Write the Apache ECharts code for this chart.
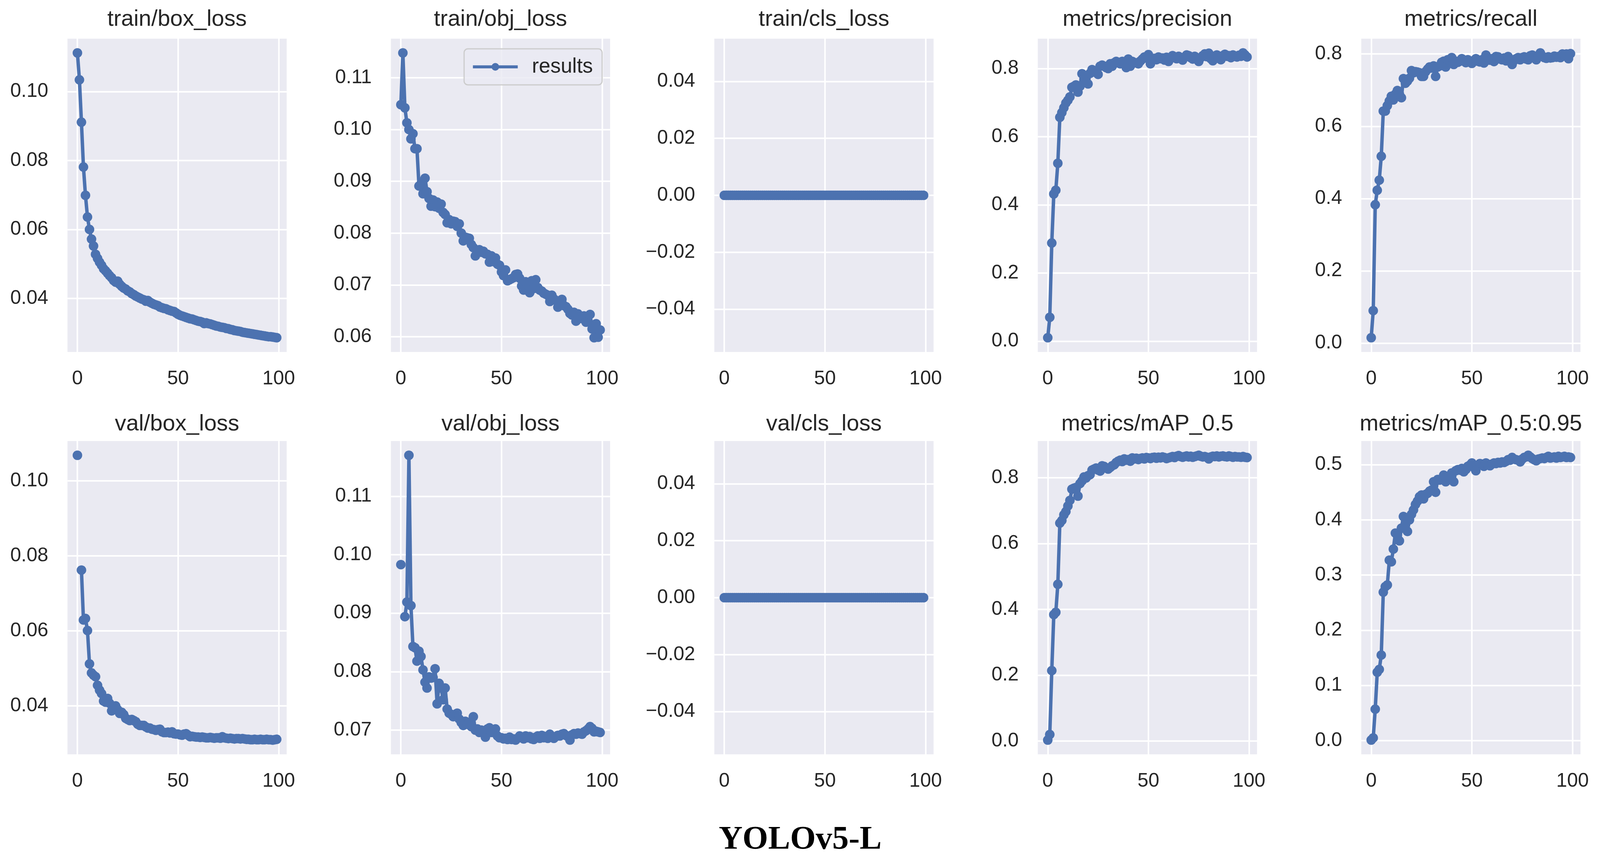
<!DOCTYPE html>
<html>
<head>
<meta charset="utf-8">
<script src="https://cdn.jsdelivr.net/npm/echarts@6/dist/echarts.min.js"></script>
<style>
  html, body { margin: 0; padding: 0; background: #fff; overflow: hidden; }
  #main { width: 100vw; height: 100vh; }
</style>
</head>
<body>
<div id="main"></div>
<script>
var titles = ['train/box_loss', 'train/obj_loss', 'train/cls_loss', 'metrics/precision', 'metrics/recall',
  'val/box_loss', 'val/obj_loss', 'val/cls_loss', 'metrics/mAP_0.5', 'metrics/mAP_0.5:0.95'];

var xTicks = [0, 50, 100];

var trainBox = [0.1112, 0.1034, 0.0911, 0.0781, 0.0699, 0.0636, 0.0600, 0.0572, 0.0552, 0.0528,
  0.0516, 0.0505, 0.0496, 0.0486, 0.0480, 0.0473, 0.0466, 0.0460, 0.0452, 0.0447,
  0.0450, 0.0441, 0.0435, 0.0430, 0.0427, 0.0422, 0.0419, 0.0414, 0.0411, 0.0407,
  0.0404, 0.0401, 0.0398, 0.0396, 0.0392, 0.0394, 0.0389, 0.0386, 0.0383, 0.0381,
  0.0379, 0.0375, 0.0373, 0.0371, 0.0370, 0.0367, 0.0365, 0.0363, 0.0362, 0.0358,
  0.0354, 0.0351, 0.0349, 0.0347, 0.0345, 0.0343, 0.0341, 0.0340, 0.0338, 0.0336,
  0.0334, 0.0333, 0.0331, 0.0327, 0.0329, 0.0327, 0.0326, 0.0324, 0.0322, 0.0320,
  0.0319, 0.0317, 0.0316, 0.0315, 0.0313, 0.0312, 0.0310, 0.0309, 0.0307, 0.0306,
  0.0305, 0.0304, 0.0302, 0.0301, 0.0300, 0.0299, 0.0298, 0.0297, 0.0296, 0.0295,
  0.0294, 0.0293, 0.0292, 0.0291, 0.0290, 0.0289, 0.0289, 0.0288, 0.0287, 0.0286];

var trainObj = [0.1048, 0.1148, 0.1042, 0.1013, 0.1000, 0.0982, 0.0992, 0.0963, 0.0963, 0.0891,
  0.0895, 0.0876, 0.0906, 0.0880, 0.0867, 0.0852, 0.0864, 0.0851, 0.0860, 0.0848,
  0.0856, 0.0840, 0.0836, 0.0820, 0.0826, 0.0818, 0.0823, 0.0822, 0.0813, 0.0818,
  0.0800, 0.0785, 0.0792, 0.0791, 0.0790, 0.0778, 0.0772, 0.0756, 0.0767, 0.0768,
  0.0763, 0.0765, 0.0760, 0.0759, 0.0744, 0.0756, 0.0745, 0.0752, 0.0740, 0.0738,
  0.0725, 0.0718, 0.0729, 0.0708, 0.0710, 0.0712, 0.0714, 0.0720, 0.0721, 0.0713,
  0.0698, 0.0690, 0.0706, 0.0700, 0.0685, 0.0708, 0.0693, 0.0710, 0.0695, 0.0690,
  0.0688, 0.0684, 0.0682, 0.0680, 0.0668, 0.0680, 0.0673, 0.0670, 0.0657, 0.0663,
  0.0672, 0.0660, 0.0658, 0.0653, 0.0645, 0.0642, 0.0647, 0.0630, 0.0644, 0.0638,
  0.0635, 0.0640, 0.0628, 0.0630, 0.0643, 0.0615, 0.0598, 0.0625, 0.0599, 0.0613];

var trainCls = [0, 0, 0, 0, 0, 0, 0, 0, 0, 0,
  0, 0, 0, 0, 0, 0, 0, 0, 0, 0,
  0, 0, 0, 0, 0, 0, 0, 0, 0, 0,
  0, 0, 0, 0, 0, 0, 0, 0, 0, 0,
  0, 0, 0, 0, 0, 0, 0, 0, 0, 0,
  0, 0, 0, 0, 0, 0, 0, 0, 0, 0,
  0, 0, 0, 0, 0, 0, 0, 0, 0, 0,
  0, 0, 0, 0, 0, 0, 0, 0, 0, 0,
  0, 0, 0, 0, 0, 0, 0, 0, 0, 0,
  0, 0, 0, 0, 0, 0, 0, 0, 0, 0];

var precision = [0.010, 0.070, 0.288, 0.432, 0.443, 0.522, 0.657, 0.671, 0.685, 0.699,
  0.707, 0.717, 0.745, 0.748, 0.752, 0.731, 0.748, 0.785, 0.769, 0.759,
  0.755, 0.786, 0.797, 0.790, 0.793, 0.783, 0.807, 0.810, 0.807, 0.803,
  0.800, 0.814, 0.807, 0.817, 0.821, 0.817, 0.814, 0.821, 0.817, 0.803,
  0.828, 0.807, 0.821, 0.817, 0.817, 0.814, 0.822, 0.828, 0.834, 0.831,
  0.841, 0.814, 0.828, 0.830, 0.826, 0.834, 0.829, 0.831, 0.825, 0.833,
  0.821, 0.830, 0.838, 0.833, 0.829, 0.836, 0.830, 0.825, 0.834, 0.840,
  0.838, 0.832, 0.828, 0.836, 0.830, 0.821, 0.832, 0.838, 0.843, 0.835,
  0.845, 0.829, 0.823, 0.836, 0.840, 0.834, 0.826, 0.838, 0.842, 0.836,
  0.838, 0.832, 0.840, 0.836, 0.834, 0.839, 0.836, 0.846, 0.840, 0.834];

var recall = [0.015, 0.090, 0.383, 0.423, 0.451, 0.517, 0.642, 0.642, 0.657, 0.670,
  0.683, 0.673, 0.689, 0.699, 0.689, 0.679, 0.732, 0.719, 0.725, 0.733,
  0.754, 0.748, 0.751, 0.750, 0.748, 0.738, 0.738, 0.751, 0.758, 0.764,
  0.761, 0.767, 0.738, 0.764, 0.767, 0.777, 0.780, 0.764, 0.784, 0.780,
  0.790, 0.771, 0.780, 0.777, 0.780, 0.787, 0.781, 0.776, 0.784, 0.779,
  0.774, 0.782, 0.787, 0.780, 0.778, 0.784, 0.775, 0.797, 0.789, 0.783,
  0.787, 0.779, 0.793, 0.792, 0.786, 0.784, 0.789, 0.781, 0.793, 0.785,
  0.771, 0.782, 0.787, 0.790, 0.784, 0.790, 0.792, 0.786, 0.784, 0.795,
  0.797, 0.790, 0.784, 0.793, 0.803, 0.794, 0.790, 0.788, 0.792, 0.789,
  0.790, 0.794, 0.791, 0.793, 0.790, 0.800, 0.796, 0.800, 0.787, 0.801];

var valBox = [0.1068, null, 0.0762, 0.0629, 0.0633, 0.0601, 0.0512, 0.0488, 0.0482, 0.0478,
  0.0455, 0.0442, 0.0433, 0.0413, 0.0410, 0.0420, 0.0407, 0.0387, 0.0390, 0.0400,
  0.0390, 0.0380, 0.0383, 0.0377, 0.0367, 0.0364, 0.0361, 0.0364, 0.0361, 0.0358,
  0.0351, 0.0348, 0.0348, 0.0348, 0.0344, 0.0341, 0.0341, 0.0338, 0.0337, 0.0335,
  0.0337, 0.0338, 0.0331, 0.0329, 0.0329, 0.0330, 0.0328, 0.0331, 0.0326, 0.0325,
  0.0325, 0.0323, 0.0322, 0.0325, 0.0326, 0.0322, 0.0318, 0.0319, 0.0318, 0.0317,
  0.0317, 0.0316, 0.0317, 0.0316, 0.0315, 0.0315, 0.0316, 0.0315, 0.0314, 0.0315,
  0.0315, 0.0314, 0.0318, 0.0315, 0.0314, 0.0313, 0.0314, 0.0313, 0.0312, 0.0313,
  0.0313, 0.0312, 0.0313, 0.0312, 0.0311, 0.0311, 0.0310, 0.0310, 0.0311, 0.0310,
  0.0310, 0.0311, 0.0310, 0.0310, 0.0311, 0.0310, 0.0310, 0.0309, 0.0310, 0.0311];

var valObj = [0.0983, null, 0.0894, 0.0919, 0.1170, 0.0913, 0.0843, 0.0841, 0.0818, 0.0835,
  0.0826, 0.0803, 0.0782, 0.0772, 0.0791, 0.0789, 0.0790, 0.0805, 0.0745, 0.0780,
  0.0772, 0.0752, 0.0772, 0.0736, 0.0729, 0.0727, 0.0723, 0.0727, 0.0729, 0.0719,
  0.0713, 0.0708, 0.0715, 0.0710, 0.0713, 0.0706, 0.0723, 0.0700, 0.0702, 0.0696,
  0.0700, 0.0698, 0.0688, 0.0702, 0.0704, 0.0696, 0.0696, 0.0702, 0.0690, 0.0687,
  0.0687, 0.0685, 0.0686, 0.0684, 0.0688, 0.0684, 0.0685, 0.0683, 0.0686, 0.0690,
  0.0688, 0.0685, 0.0690, 0.0687, 0.0689, 0.0685, 0.0684, 0.0688, 0.0690, 0.0686,
  0.0691, 0.0687, 0.0689, 0.0686, 0.0693, 0.0688, 0.0686, 0.0689, 0.0691, 0.0690,
  0.0693, 0.0694, 0.0691, 0.0689, 0.0683, 0.0692, 0.0694, 0.0693, 0.0695, 0.0694,
  0.0693, 0.0697, 0.0699, 0.0702, 0.0706, 0.0703, 0.0697, 0.0698, 0.0697, 0.0696];

var valCls = [0, 0, 0, 0, 0, 0, 0, 0, 0, 0,
  0, 0, 0, 0, 0, 0, 0, 0, 0, 0,
  0, 0, 0, 0, 0, 0, 0, 0, 0, 0,
  0, 0, 0, 0, 0, 0, 0, 0, 0, 0,
  0, 0, 0, 0, 0, 0, 0, 0, 0, 0,
  0, 0, 0, 0, 0, 0, 0, 0, 0, 0,
  0, 0, 0, 0, 0, 0, 0, 0, 0, 0,
  0, 0, 0, 0, 0, 0, 0, 0, 0, 0,
  0, 0, 0, 0, 0, 0, 0, 0, 0, 0,
  0, 0, 0, 0, 0, 0, 0, 0, 0, 0];

var map50 = [0.003, 0.020, 0.214, 0.384, 0.391, 0.476, 0.662, 0.670, 0.687, 0.697,
  0.714, 0.731, 0.765, 0.768, 0.770, 0.744, 0.782, 0.790, 0.802, 0.799,
  0.806, 0.809, 0.823, 0.826, 0.829, 0.823, 0.820, 0.836, 0.834, 0.829,
  0.826, 0.831, 0.836, 0.839, 0.846, 0.850, 0.853, 0.849, 0.857, 0.853,
  0.855, 0.850, 0.860, 0.857, 0.859, 0.855, 0.858, 0.860, 0.857, 0.861,
  0.860, 0.858, 0.861, 0.862, 0.859, 0.862, 0.860, 0.863, 0.861, 0.858,
  0.860, 0.862, 0.864, 0.861, 0.865, 0.867, 0.864, 0.862, 0.864, 0.866,
  0.863, 0.865, 0.862, 0.864, 0.866, 0.868, 0.865, 0.863, 0.864, 0.862,
  0.857, 0.863, 0.865, 0.864, 0.866, 0.863, 0.865, 0.866, 0.864, 0.863,
  0.866, 0.864, 0.862, 0.864, 0.863, 0.863, 0.862, 0.864, 0.862, 0.861];

var map5095 = [0.001, 0.005, 0.057, 0.124, 0.129, 0.155, 0.269, 0.279, 0.282, 0.327,
  0.324, 0.347, 0.376, 0.372, 0.362, 0.385, 0.406, 0.392, 0.379, 0.400,
  0.410, 0.418, 0.428, 0.434, 0.442, 0.445, 0.438, 0.446, 0.448, 0.452,
  0.454, 0.469, 0.450, 0.473, 0.472, 0.474, 0.481, 0.469, 0.477, 0.480,
  0.485, 0.469, 0.489, 0.491, 0.490, 0.493, 0.487, 0.491, 0.497, 0.499,
  0.503, 0.495, 0.489, 0.499, 0.502, 0.501, 0.497, 0.503, 0.500, 0.498,
  0.501, 0.503, 0.502, 0.504, 0.503, 0.505, 0.504, 0.506, 0.509, 0.508,
  0.513, 0.510, 0.509, 0.508, 0.505, 0.510, 0.513, 0.514, 0.517, 0.514,
  0.511, 0.509, 0.507, 0.510, 0.511, 0.512, 0.511, 0.513, 0.515, 0.512,
  0.513, 0.514, 0.512, 0.515, 0.513, 0.514, 0.515, 0.513, 0.514, 0.513];

var panelData = [trainBox, trainObj, trainCls, precision, recall, valBox, valObj, valCls, map50, map5095];

var yTicks = [
  [0.04, 0.06, 0.08, 0.10],
  [0.06, 0.07, 0.08, 0.09, 0.10, 0.11],
  [-0.04, -0.02, 0, 0.02, 0.04],
  [0, 0.2, 0.4, 0.6, 0.8],
  [0, 0.2, 0.4, 0.6, 0.8],
  [0.04, 0.06, 0.08, 0.10],
  [0.07, 0.08, 0.09, 0.10, 0.11],
  [-0.04, -0.02, 0, 0.02, 0.04],
  [0, 0.2, 0.4, 0.6, 0.8],
  [0, 0.1, 0.2, 0.3, 0.4, 0.5]
];
var yDecimals = [2, 2, 2, 1, 1, 2, 2, 2, 1, 1];

var dom = document.getElementById('main');
var chart = echarts.init(dom);

// laid out on a 4175 x 2222 design, scaled to the real viewport
var sx = dom.clientWidth / 4175, sy = dom.clientHeight / 2222;
var s = Math.min(sx, sy);

var blue = '#4C72B0';
var textColor = '#262626';
var sans = 'Liberation Sans, Arial, Helvetica, sans-serif';

var colLeft = [176, 1020, 1864, 2708, 3552];
var rowTop = [99, 1129];
var plotW = 572, plotH = 802;
var titleY = [50, 1086];

// matplotlib-like 5% margins
function padRange(vals) {
  var v = vals.filter(function (d) { return d !== null; });
  var lo = Math.min.apply(null, v), hi = Math.max.apply(null, v);
  if (hi === lo) { lo -= 0.05; hi += 0.05; }
  var m = (hi - lo) * 0.05;
  return [lo - m, hi + m];
}

function fmt(v, d) {
  var t = Math.abs(v).toFixed(d);
  return v < -1e-12 ? '\u2212' + t : t;
}

var grids = [], xAxes = [], yAxes = [], series = [], titleList = [];

panelData.forEach(function (vals, i) {
  var r = Math.floor(i / 5), c = i % 5;
  var xr = padRange([0, vals.length - 1]);
  var yr = padRange(vals);
  var d = yDecimals[i];
  grids.push({
    left: colLeft[c] * sx, top: rowTop[r] * sy, width: plotW * sx, height: plotH * sy,
    show: true, backgroundColor: '#EAEAF2', borderWidth: 0
  });
  xAxes.push({
    type: 'value', gridIndex: i, min: xr[0], max: xr[1],
    axisLine: { show: false },
    axisTick: { show: false, customValues: xTicks },
    axisLabel: { customValues: xTicks, fontSize: 51 * s, color: textColor, fontFamily: sans, margin: 45 * s },
    splitLine: { show: true, lineStyle: { color: '#ffffff', width: 4 * s } }
  });
  yAxes.push({
    type: 'value', gridIndex: i, min: yr[0], max: yr[1],
    axisLine: { show: false },
    axisTick: { show: false, customValues: yTicks[i] },
    axisLabel: {
      customValues: yTicks[i], fontSize: 51 * s, color: textColor, fontFamily: sans, margin: 50 * s,
      formatter: function (v) { return fmt(v, d); }
    },
    splitLine: { show: true, lineStyle: { color: '#ffffff', width: 4 * s } }
  });
  series.push({
    name: 'results', type: 'line', xAxisIndex: i, yAxisIndex: i,
    data: vals.map(function (v, k) { return [k, v === null ? '-' : v]; }),
    symbol: 'circle', symbolSize: 25 * s, showAllSymbol: true,
    lineStyle: { color: blue, width: 9 * s },
    itemStyle: { color: blue },
    connectNulls: false, silent: true
  });
  titleList.push({
    text: titles[i], left: (colLeft[c] + plotW / 2) * sx, top: titleY[r] * sy,
    textAlign: 'center', textVerticalAlign: 'middle', padding: 0,
    textStyle: { fontSize: 59 * s, fontWeight: 'normal', color: textColor, fontFamily: sans }
  });
});

titleList.push({
  text: 'YOLOv5-L', left: 2088 * sx, top: 2151 * sy,
  textAlign: 'center', textVerticalAlign: 'middle', padding: 0,
  textStyle: { fontSize: 86 * s, fontWeight: 'bold', color: '#000000', fontFamily: 'Liberation Serif, Times New Roman, serif' }
});

chart.setOption({
  animation: false,
  backgroundColor: '#ffffff',
  title: titleList,
  legend: {
    data: ['results'], left: 1211 * sx, top: 125 * sy, selectedMode: false,
    itemWidth: 117 * s, itemHeight: 25 * s,
    padding: [20 * s, 24 * s, 20 * s, 19 * s],
    lineStyle: { width: 8 * s, color: blue },
    itemStyle: { color: blue },
    backgroundColor: 'rgba(234,234,242,0.8)', borderColor: '#CCCCCC', borderWidth: 3 * s, borderRadius: 10 * s,
    textStyle: { fontSize: 54 * s, color: textColor, fontFamily: sans, padding: [0, 0, 0, 32 * s] }
  },
  grid: grids,
  xAxis: xAxes,
  yAxis: yAxes,
  series: series
});
</script>
</body>
</html>
